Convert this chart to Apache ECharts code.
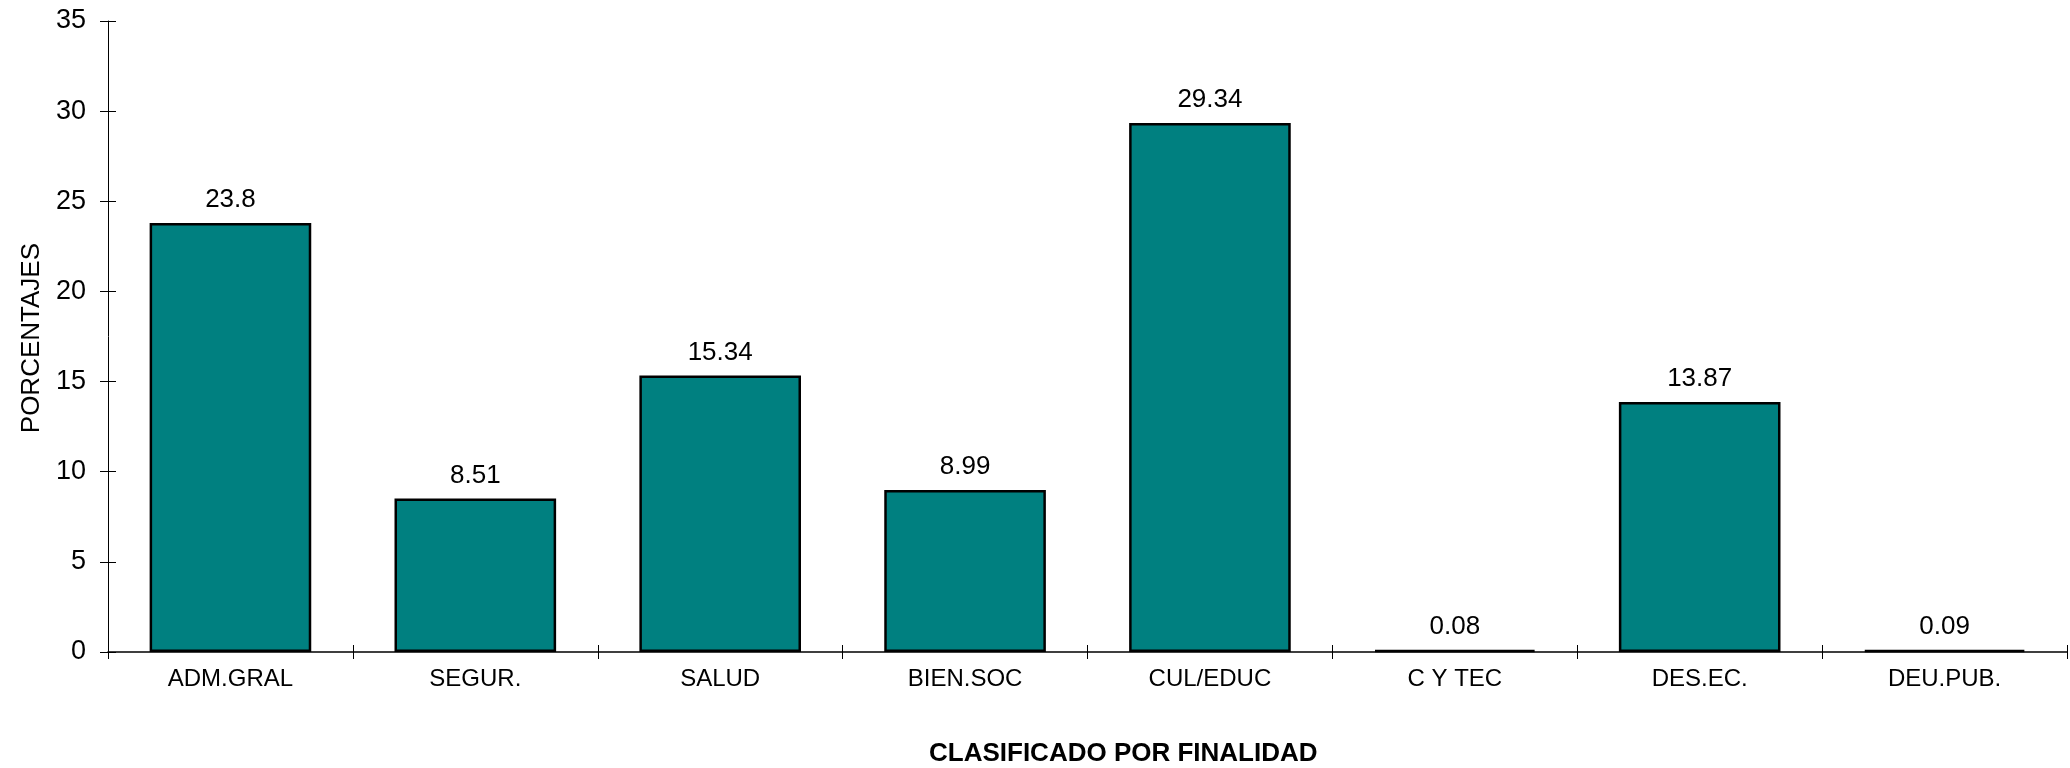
<!DOCTYPE html>
<html>
<head>
<meta charset="utf-8">
<script src="https://cdn.jsdelivr.net/npm/echarts@6/dist/echarts.min.js"></script>
<style>html,body{margin:0;padding:0;background:#fff}#c{width:2070px;height:768px}</style>
</head>
<body>
<div id="c"></div>
<script>
const categories = ["ADM.GRAL", "SEGUR.", "SALUD", "BIEN.SOC", "CUL/EDUC", "C Y TEC", "DES.EC.", "DEU.PUB."];
const values = [23.8, 8.51, 15.34, 8.99, 29.34, 0.08, 13.87, 0.09];
const yTicks = { min: 0, max: 35, interval: 5 };
const yTitle = "PORCENTAJES";
const xTitle = "CLASIFICADO POR FINALIDAD";

const font = "Liberation Sans, Arial, sans-serif";
const chart = echarts.init(document.getElementById('c'), null, { renderer: 'canvas' });
chart.setOption({
  animation: false,
  backgroundColor: '#fff',
  title: {
    text: xTitle, left: 924, top: 736,
    textStyle: { fontFamily: font, fontSize: 26, fontWeight: 'bold', color: '#000' }
  },
  graphic: [{
    type: 'text', left: 19, top: 243, rotation: Math.PI / 2,
    style: { text: yTitle, fontFamily: font, fontSize: 26, fill: '#000' }
  }],
  grid: { left: 108, right: 3, top: 21, bottom: 116, containLabel: false },
  xAxis: [{
    type: 'category', data: categories, position: 'bottom',
    axisLine: { show: true, lineStyle: { color: '#000', width: 1.5 } },
    axisTick: { show: true, length: 7, alignWithLabel: false, lineStyle: { color: '#000' } },
    axisLabel: { fontFamily: font, fontSize: 24, color: '#000', margin: 15 },
    splitLine: { show: false }
  }, {
    type: 'category', data: categories, position: 'bottom',
    axisLine: { show: false },
    axisTick: { show: true, inside: true, length: 7, lineStyle: { color: '#000' } },
    axisLabel: { show: false }, splitLine: { show: false }
  }],
  yAxis: [{
    type: 'value', min: yTicks.min, max: yTicks.max, interval: yTicks.interval,
    axisLine: { show: true, lineStyle: { color: '#000', width: 1 } },
    axisTick: { show: true, length: 8, lineStyle: { color: '#000' } },
    axisLabel: { fontFamily: font, fontSize: 27, color: '#000', margin: 22 },
    splitLine: { show: false }
  }, {
    type: 'value', min: yTicks.min, max: yTicks.max, interval: yTicks.interval, position: 'left',
    axisLine: { show: false },
    axisTick: { show: true, inside: true, length: 8, lineStyle: { color: '#000' } },
    axisLabel: { show: false }, splitLine: { show: false }
  }],
  series: [{
    type: 'bar', data: values, xAxisIndex: 0, yAxisIndex: 0,
    barWidth: '66%', barMinHeight: 2,
    itemStyle: { color: '#008080', borderColor: '#000', borderWidth: 2.5 },
    label: {
      show: true, position: 'top', distance: 10,
      fontFamily: font, fontSize: 26, color: '#000'
    }
  }]
});
</script>
</body>
</html>
